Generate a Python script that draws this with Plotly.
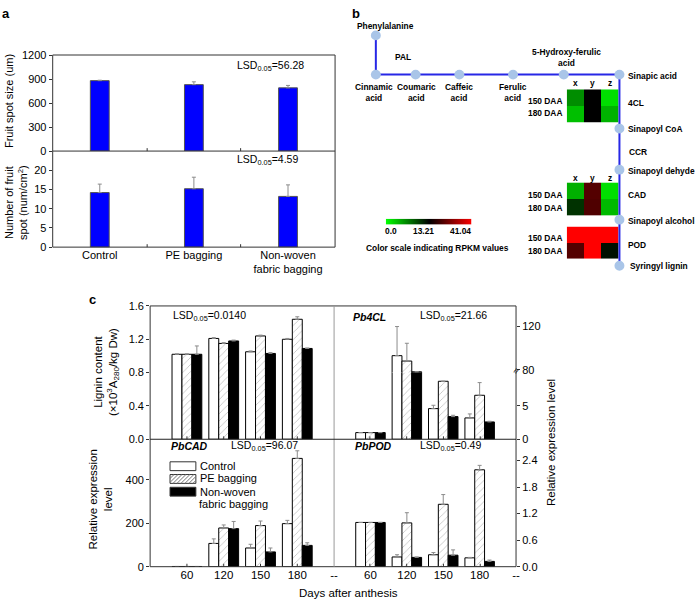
import plotly.graph_objects as go

W, H = 700, 607
def X(px): return px / W
def Y(py): return 1 - py / H

FONT = "Liberation Sans"

# ---------------- Panel a data ----------------
a_categories = ["Control", "PE bagging", "Non-woven<br>fabric bagging"]
a_spot_size = [880, 830, 790]
a_spot_size_err = [5, 35, 30]
a_spot_number = [14.2, 15.2, 13.2]
a_spot_number_err = [2.2, 3.0, 3.0]
a_size_ticks = [0, 300, 600, 900, 1200]
a_number_ticks = [0, 5, 10, 15, 20]

# ---------------- Panel b data ----------------
heat_cols = ["x", "y", "z"]
heat_rows = ["150 DAA", "180 DAA"]
rpkm_4cl = [[5.9, 13.21, 1.7], [3.3, 13.21, 4.0]]
rpkm_cad = [[4.1, 22.4, 1.7], [10.6, 21.8, 3.6]]
rpkm_pod = [[41.04, 41.04, 41.04], [22.4, 41.04, 12.4]]
scale_ticks = [0.0, 13.21, 41.04]

# ---------------- Panel c data ----------------
c_days = ["60", "120", "150", "180"]
c_tick_labels = ["60", "120", "150", "180", "--"]

lignin_control = [1.02, 1.21, 1.05, 1.20]
lignin_control_err = [0.005, 0.01, 0.01, 0.01]
lignin_pe = [1.02, 1.15, 1.24, 1.44]
lignin_pe_err = [0.005, 0.01, 0.01, 0.03]
lignin_nw = [1.02, 1.18, 1.03, 1.09]
lignin_nw_err = [0.10, 0.01, 0.01, 0.005]

pb4cl_control = [1.0, 93, 4.6, 3.2]
pb4cl_control_err = [0, 27, 0.5, 0.6]
pb4cl_pe = [1.0, 88, 8.7, 6.6]
pb4cl_pe_err = [0, 16.5, 0, 1.9]
pb4cl_nw = [1.0, 78, 3.4, 2.6]
pb4cl_nw_err = [0, 0, 0.2, 0.1]

pbcad_control = [1, 107, 86, 198]
pbcad_control_err = [0, 21, 17, 15]
pbcad_pe = [1, 178, 189, 498]
pbcad_pe_err = [0, 14, 21, 35]
pbcad_nw = [1, 175, 68, 98]
pbcad_nw_err = [0, 33, 18, 12]

pbpod_control = [1.0, 0.22, 0.27, 0.20]
pbpod_control_err = [0, 0.05, 0.05, 0.01]
pbpod_pe = [1.0, 0.99, 1.41, 2.19]
pbpod_pe_err = [0, 0.23, 0.22, 0.10]
pbpod_nw = [1.0, 0.21, 0.26, 0.12]
pbpod_nw_err = [0, 0.01, 0.12, 0.03]

fig = go.Figure()
ERR = "#8c8c8c"

def err(arr):
    return dict(type="data", array=arr, arrayminus=[0] * len(arr), symmetric=False,
                color=ERR, thickness=1, width=2)

# ---- panel a bars
a_pos = list(range(len(a_categories)))
fig.add_trace(go.Bar(x=a_pos, y=a_spot_size, width=0.2, error_y=err(a_spot_size_err),
                     marker=dict(color="#0000ff", line=dict(color="#555", width=1)),
                     xaxis="x", yaxis="y", showlegend=False))
fig.add_trace(go.Bar(x=a_pos, y=a_spot_number, width=0.2, error_y=err(a_spot_number_err),
                     marker=dict(color="#0000ff", line=dict(color="#555", width=1)),
                     xaxis="x2", yaxis="y2", showlegend=False))

# ---- panel c bars
c_pos = list(range(len(c_days)))
BW = 0.27
styles = [
    dict(color="white", line=dict(color="black", width=1)),
    dict(color="white", line=dict(color="black", width=1),
         pattern=dict(shape="/", fgcolor="#777", bgcolor="white", size=5, solidity=0.15)),
    dict(color="black", line=dict(color="black", width=1)),
]
offsets = [-1.5 * BW, -0.5 * BW, 0.5 * BW]

def add_group(xa, ya, series):
    for i, (vals, errs) in enumerate(series):
        fig.add_trace(go.Bar(x=c_pos, y=vals, width=BW, offset=offsets[i],
                             marker=styles[i], error_y=err(errs),
                             xaxis=xa, yaxis=ya, showlegend=False))

add_group("x3", "y3", [(lignin_control, lignin_control_err), (lignin_pe, lignin_pe_err),
                       (lignin_nw, lignin_nw_err)])
s4 = [(pb4cl_control, pb4cl_control_err), (pb4cl_pe, pb4cl_pe_err), (pb4cl_nw, pb4cl_nw_err)]
add_group("x4", "y4", s4)
add_group("x4", "y5", s4)
add_group("x5", "y6", [(pbcad_control, pbcad_control_err), (pbcad_pe, pbcad_pe_err),
                       (pbcad_nw, pbcad_nw_err)])
add_group("x6", "y7", [(pbpod_control, pbpod_control_err), (pbpod_pe, pbpod_pe_err),
                       (pbpod_nw, pbpod_nw_err)])

# ---- panel b heatmaps
cscale = [[0, "#00ff00"], [scale_ticks[1] / scale_ticks[2], "#000000"], [1, "#ff0000"]]
for z, xa, ya in [(rpkm_4cl, "x7", "y8"), (rpkm_cad, "x8", "y9"), (rpkm_pod, "x9", "y10")]:
    fig.add_trace(go.Heatmap(z=z, x=heat_cols, y=heat_rows, colorscale=cscale,
                             zmin=scale_ticks[0], zmax=scale_ticks[2], showscale=False,
                             xaxis=xa, yaxis=ya, hoverinfo="skip"))
fig.add_trace(go.Heatmap(z=[scale_ticks], x=[0, 1, 2], y=[0], colorscale=cscale,
                         zmin=scale_ticks[0], zmax=scale_ticks[2], zsmooth="best",
                         showscale=False, xaxis="x10", yaxis="y11", hoverinfo="skip"))

# ---------------- axes ----------------
def xax(px0, px1, rng, anchor, tickvals=None, ticktext=None, size=11.5, show=False, ticks=""):
    return dict(domain=[X(px0), X(px1)], range=rng, anchor=anchor, showgrid=False,
                zeroline=False, showline=False, tickvals=tickvals, ticktext=ticktext,
                showticklabels=show, ticks=ticks, ticklen=3, tickcolor="#333",
                tickfont=dict(family=FONT, size=size, color="black"), fixedrange=True)

def yax(py_bot, py_top, rng, anchor, tickvals, side="left", size=11, fmt=None):
    d = dict(domain=[Y(py_bot), Y(py_top)], range=rng, anchor=anchor, side=side,
             showgrid=False, zeroline=False, showline=False, tickvals=tickvals,
             ticks="outside", ticklen=3, tickcolor="#333",
             tickfont=dict(family=FONT, size=size, color="black"), fixedrange=True)
    if fmt:
        d["tickformat"] = fmt
    return d

def hidden(px0, px1, rng, anchor, ydir=False):
    if ydir:
        return dict(domain=[Y(px1), Y(px0)], range=rng, anchor=anchor, visible=False, fixedrange=True)
    return dict(domain=[X(px0), X(px1)], range=rng, anchor=anchor, visible=False, fixedrange=True)

c_xt = list(range(len(c_tick_labels)))
layout = dict(
    width=W, height=H, margin=dict(l=0, r=0, t=0, b=0),
    paper_bgcolor="white", plot_bgcolor="rgba(0,0,0,0)", showlegend=False,
    barmode="overlay", font=dict(family=FONT, color="black"),
    xaxis=xax(53, 337, [-0.5, 2.5], "y"),
    yaxis=yax(148, 50, [0, 1200], "x", a_size_ticks, size=11),
    xaxis2=xax(53, 337, [-0.5, 2.5], "y2", a_pos, a_categories, size=11, show=True),
    yaxis2=yax(246, 148, [0, 25], "x2", a_number_ticks, size=11),
    xaxis3=xax(151, 336, [-1, 4], "y3", c_xt, c_tick_labels),
    yaxis3=yax(442, 306, [0, 1.6], "x3", [0, 0.4, 0.8, 1.2, 1.6], fmt=".1f"),
    xaxis4=xax(336, 519, [-1, 4], "y4", c_xt, c_tick_labels),
    yaxis4=yax(442, 374, [0, 10], "x4", [0, 5], side="right"),
    yaxis5=yax(374, 306, [77.3, 139.1], "x4", [80, 120], side="right"),
    xaxis5=xax(151, 336, [-1, 4], "y6", c_xt, c_tick_labels, show=True),
    yaxis6=yax(572, 442, [0, 586], "x5", [0, 200, 400]),
    xaxis6=xax(336, 519, [-1, 4], "y7", c_xt, c_tick_labels, show=True),
    yaxis7=yax(572, 442, [0, 2.88], "x6", [0, 0.6, 1.2, 1.8, 2.4], side="right", fmt=".1f"),
    xaxis7=hidden(570, 622, [-0.5, 2.5], "y8"),
    yaxis8=hidden(85, 119, [1.5, -0.5], "x7", ydir=True),
    xaxis8=hidden(570, 622, [-0.5, 2.5], "y9"),
    yaxis9=hidden(180, 214, [1.5, -0.5], "x8", ydir=True),
    xaxis9=hidden(570, 622, [-0.5, 2.5], "y10"),
    yaxis10=hidden(225, 258, [1.5, -0.5], "x9", ydir=True),
    xaxis10=hidden(388, 474, [0, 2], "y11"),
    yaxis11=hidden(217, 223, [-0.5, 0.5], "x10", ydir=True),
)

# ---------------- shapes ----------------
shapes = []
def line(x0, y0, x1, y1, color="#333", width=1):
    shapes.append(dict(type="line", xref="paper", yref="paper", x0=X(x0), y0=Y(y0),
                       x1=X(x1), y1=Y(y1), line=dict(color=color, width=width)))
def rect(x0, y0, x1, y1, fill="rgba(0,0,0,0)", color="#333", width=1):
    shapes.append(dict(type="rect", xref="paper", yref="paper", x0=X(x0), y0=Y(y0),
                       x1=X(x1), y1=Y(y1), fillcolor=fill, line=dict(color=color, width=width)))

# panel a frame
rect(53, 50, 337, 246)
line(53, 148, 337, 148)
for bx in (148, 242):
    line(bx, 148, bx, 145)
    line(bx, 246, bx, 243)
# panel c frame
rect(151, 306, 519, 572)
line(336, 306, 336, 572, color="#999")
line(151, 442, 519, 442, color="#222")
for px in (188, 225, 262, 299, 372, 409, 446, 483):
    line(px, 442, px, 439)
    line(px, 572, px, 569)

# panel b pathway
BLUE = "#2727e6"
line(378, 30, 378, 70, BLUE, 2)
line(378, 70, 623, 70, BLUE, 2)
line(623, 70, 623, 265, BLUE, 2)
nodes = [(378, 30), (378, 70), (418, 70), (462, 70), (516, 70), (567, 70), (623, 70),
         (623, 125), (623, 167), (623, 218), (623, 265)]
for nx, ny in nodes:
    shapes.append(dict(type="circle", xref="paper", yref="paper", x0=X(nx - 5), x1=X(nx + 5),
                       y0=Y(ny + 5), y1=Y(ny - 5), fillcolor="#a9c5e8", line=dict(width=0)))

# legend boxes (panel c)
LX0, LX1 = 171, 197
rect(LX0, 465, LX1, 474, fill="white", color="#333")
rect(LX0, 478, LX1, 487, fill="white", color="#333")
rect(LX0, 491, LX1, 500, fill="black", color="#333")
hy0, hy1 = 487, 478
hh = hy0 - hy1
path = ""
k = -hh
while k < (LX1 - LX0):
    xs, ys = LX0 + k, hy0
    xe, ye = LX0 + k + hh, hy1
    if xs < LX0:
        ys = hy0 - (LX0 - xs); xs = LX0
    if xe > LX1:
        ye = hy1 + (xe - LX1); xe = LX1
    if xe > xs:
        path += f"M{X(xs)},{Y(ys)} L{X(xe)},{Y(ye)} "
    k += 4
shapes.append(dict(type="path", xref="paper", yref="paper", path=path,
                   line=dict(color="#777", width=1)))
layout["shapes"] = shapes

# ---------------- annotations ----------------
anns = []
def ann(text, x, y, size=12, xa="center", ya="middle", bold=False, angle=0, italic=False):
    t = text
    if bold:
        t = f"<b>{t}</b>"
    if italic:
        t = f"<i>{t}</i>"
    anns.append(dict(text=t, x=X(x), y=Y(y), xref="paper", yref="paper", showarrow=False,
                     xanchor=xa, yanchor=ya, textangle=angle,
                     font=dict(family=FONT, size=size, color="black")))

ann("a", 6, 8, 13, bold=True)
ann("b", 358, 8, 13, bold=True)
ann("c", 93, 299, 13, bold=True)

# panel a text
ann("Fruit spot size (um)", 9, 97, 11, angle=-90)
ann("Number of fruit<br>spot (num/cm<sup>2</sup>)", 16, 200, 11, angle=-90)
ann("LSD<sub>0.05</sub>=56.28", 236, 61, 10.5, xa="left")
ann("LSD<sub>0.05</sub>=4.59", 236, 157, 10.5, xa="left")

# panel b text
BS = 8.4
ann("Phenylalanine", 388, 20, BS, bold=True)
ann("PAL", 395, 52, BS, xa="left", bold=True)
ann("Cinnamic<br>acid", 376, 88, BS, bold=True)
ann("Coumaric<br>acid", 419, 88, BS, bold=True)
ann("Caffeic<br>acid", 462, 88, BS, bold=True)
ann("Ferulic<br>acid", 516, 88, BS, bold=True)
ann("5-Hydroxy-ferulic<br>acid", 570, 53, BS, bold=True)
ann("Sinapic acid", 630, 71, BS, xa="left", bold=True)
ann("4CL", 630, 99, BS, xa="left", bold=True)
ann("Sinapoyl CoA", 630, 125, BS, xa="left", bold=True)
ann("CCR", 631, 149, BS, xa="left", bold=True)
ann("Sinapoyl dehyde", 630, 168, BS, xa="left", bold=True)
ann("CAD", 630, 193, BS, xa="left", bold=True)
ann("Sinapoyl alcohol", 630, 219, BS, xa="left", bold=True)
ann("POD", 630, 244, BS, xa="left", bold=True)
ann("Syringyl lignin", 632, 265, BS, xa="left", bold=True)
for i, c in enumerate(heat_cols):
    cx = 570 + (i + 0.5) * 52 / 3
    ann(c, cx, 79, BS, bold=True)
    ann(c, cx, 175, BS, bold=True)
for ys in [(97, 109), (193, 206), (237, 250)]:
    for r, yy in zip(heat_rows, ys):
        ann(r, 567, yy, BS, xa="right", bold=True)
for v, sx in zip(scale_ticks, (393, 426, 463)):
    ann(f"{v:.1f}" if v == 0 else f"{v:.2f}", sx, 230, BS, bold=True)
ann("Color scale indicating RPKM values", 366, 247, BS, xa="left", bold=True)

# panel c text
LS = 10.5
ann("LSD<sub>0.05</sub>=0.0140", 172, 316, LS, xa="left")
ann("Pb4CL", 353, 317, 10.5, xa="left", bold=True, italic=True)
ann("LSD<sub>0.05</sub>=21.66", 420, 316, LS, xa="left")
ann("PbCAD", 170, 449, 10.5, xa="left", bold=True, italic=True)
ann("LSD<sub>0.05</sub>=96.07", 230, 449, LS, xa="left")
ann("PbPOD", 355, 449, 10.5, xa="left", bold=True, italic=True)
ann("LSD<sub>0.05</sub>=0.49", 420, 449, LS, xa="left")
ann("Lignin content<br>(×10<sup>3</sup>A<sub>280</sub>/kg Dw)", 107, 373, 11.5, angle=-90)
ann("Relative expression<br>level", 101, 503, 11.5, angle=-90)
ann("Relative expression level", 554, 445, 11.5, angle=-90)
ann("Days after anthesis", 351, 599, 11.5)
ann("≈", 519, 372, 10, angle=-60)
# legend text
LG = 11
ann("Control", 199, 469, LG, xa="left")
ann("PE bagging", 199, 482, LG, xa="left")
ann("Non-woven", 199, 495.5, LG, xa="left")
ann("fabric bagging", 198, 508.5, LG, xa="left")
layout["annotations"] = anns

fig.update_layout(**layout)
fig.write_html("out.html", config={"displayModeBar": False},
               post_script="document.body.style.margin='0';")
